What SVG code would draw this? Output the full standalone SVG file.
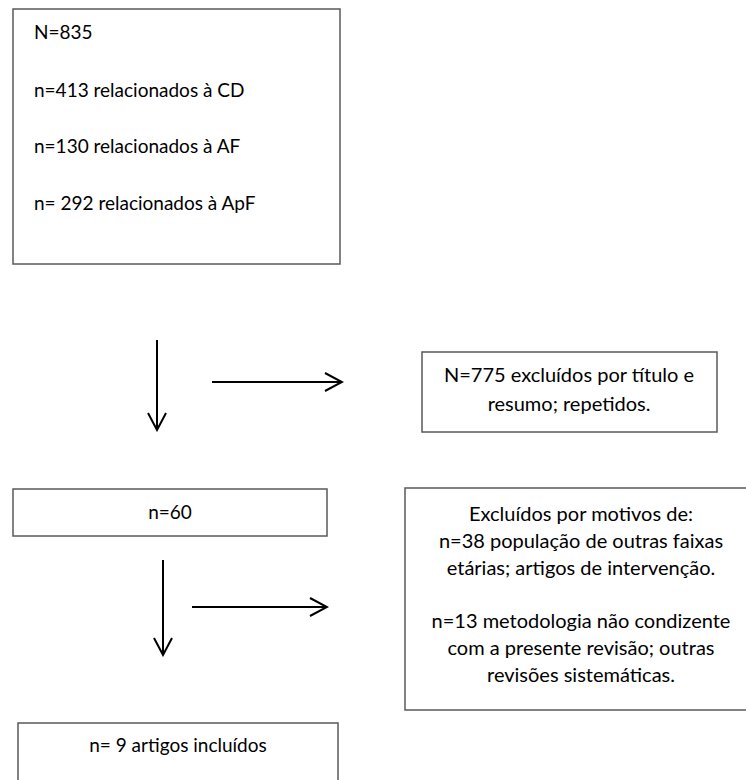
<svg xmlns="http://www.w3.org/2000/svg" width="746" height="780" viewBox="0 0 746 780">
<style>
.box{fill:#fff;stroke:#5a5a5a;stroke-width:1.5}
.t{font-family:Lato,"Open Sans",sans-serif;font-size:19px;fill:#000}
.r{font-size:20px}
.c{text-anchor:middle}
.ar{stroke:#000;stroke-width:2;fill:none}
</style>
<defs>
<marker id="open" viewBox="0 0 20 20" refX="18" refY="10" markerWidth="20" markerHeight="20" markerUnits="userSpaceOnUse" orient="auto">
<path d="M1,1 L18,10 L1,19" fill="none" stroke="#000" stroke-width="2"/>
</marker>
</defs>
<rect width="746" height="780" fill="#fff"/>
<g id="total">
<rect class="box" x="13" y="9" width="327" height="255"/>
<text class="t" x="34" y="39">N=835</text>
<text class="t" x="34" y="97">n=413 relacionados à CD</text>
<text class="t" x="34" y="153">n=130 relacionados à AF</text>
<text class="t" x="34" y="210">n= 292 relacionados à ApF</text>
</g>
<g id="excl1">
<rect class="box" x="422" y="352" width="295" height="80"/>
<text class="t r c" x="569" y="382">N=775 excluídos por título e</text>
<text class="t r c" x="569" y="411">resumo; repetidos.</text>
</g>
<g id="n60">
<rect class="box" x="13" y="489" width="314" height="47"/>
<text class="t c" x="170" y="519">n=60</text>
</g>
<g id="excl2">
<rect class="box" x="405" y="488" width="360" height="222"/>
<text class="t r c" x="581" y="521">Excluídos por motivos de:</text>
<text class="t r c" x="581" y="548">n=38 população de outras faixas</text>
<text class="t r c" x="581" y="575">etárias; artigos de intervenção.</text>
<text class="t r c" x="581" y="628">n=13 metodologia não condizente</text>
<text class="t r c" x="581" y="655">com a presente revisão; outras</text>
<text class="t r c" x="581" y="682">revisões sistemáticas.</text>
</g>
<g id="incl">
<rect class="box" x="18" y="723" width="320" height="70"/>
<text class="t c" x="178" y="752">n= 9 artigos incluídos</text>
</g>
<g id="connectors">
<line class="ar" x1="157" y1="340" x2="157" y2="430" marker-end="url(#open)"/>
<line class="ar" x1="212" y1="382" x2="342" y2="382" marker-end="url(#open)"/>
<line class="ar" x1="163" y1="560" x2="163" y2="655" marker-end="url(#open)"/>
<line class="ar" x1="192" y1="607" x2="327" y2="607" marker-end="url(#open)"/>
</g>
</svg>
